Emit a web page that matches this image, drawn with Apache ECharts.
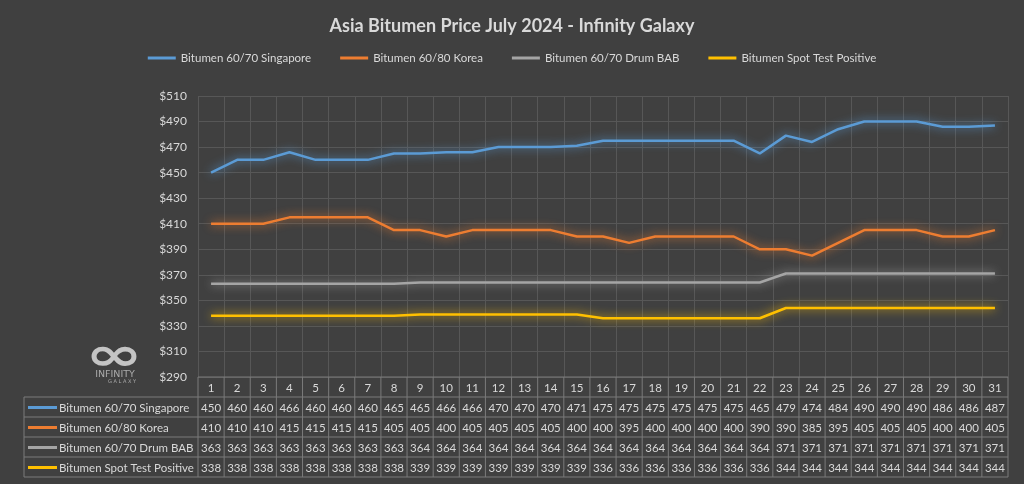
<!DOCTYPE html>
<html><head><meta charset="utf-8">
<script src="https://cdn.jsdelivr.net/npm/echarts@6/dist/echarts.min.js"></script>
<style>html,body{margin:0;padding:0;background:#404040;}#c{width:1024px;height:484px;}</style>
</head><body><div id="c"></div>
<script>
const days = ['1','2','3','4','5','6','7','8','9','10','11','12','13','14','15','16','17','18','19','20','21','22','23','24','25','26','27','28','29','30','31'];
const singapore = [450,460,460,466,460,460,460,465,465,466,466,470,470,470,471,475,475,475,475,475,475,465,479,474,484,490,490,490,486,486,487];
const korea = [410,410,410,415,415,415,415,405,405,400,405,405,405,405,400,400,395,400,400,400,400,390,390,385,395,405,405,405,400,400,405];
const drum = [363,363,363,363,363,363,363,363,364,364,364,364,364,364,364,364,364,364,364,364,364,364,371,371,371,371,371,371,371,371,371];
const spot = [338,338,338,338,338,338,338,338,339,339,339,339,339,339,339,336,336,336,336,336,336,336,344,344,344,344,344,344,344,344,344];
const seriesNames = ['Bitumen 60/70 Singapore','Bitumen 60/80 Korea','Bitumen 60/70 Drum BAB','Bitumen Spot Test Positive'];
const seriesColors = ['#5B9BD5','#ED7D31','#A5A5A5','#FFC000'];
const seriesData = [singapore, korea, drum, spot];

const FONT = 'Lato';
const TXT = '#d9d9d9';
const chart = echarts.init(document.getElementById('c'));
const option = {
  backgroundColor: '#404040',
  animation: false,
  title: {
    text: 'Asia Bitumen Price July 2024 - Infinity Galaxy',
    left: 'center', top: 12,
    textStyle: {color: TXT, fontSize: 18, fontWeight: 'bold', fontFamily: FONT}
  },
  legend: {
    top: 47, left: 'center',
    itemWidth: 28, itemHeight: 3, itemGap: 29,
    icon: 'rect',
    textStyle: {color: TXT, fontSize: 11.5, fontFamily: FONT},
    data: seriesNames
  },
  grid: {left: 198, right: 16, top: 96, bottom: 107},
  xAxis: {
    type: 'category', data: days, boundaryGap: true,
    axisLine: {show: false}, axisTick: {show: false}, axisLabel: {show: false},
    splitLine: {show: true, lineStyle: {color: '#575757', width: 1}}
  },
  yAxis: {
    type: 'value', min: 290, max: 510, interval: 20,
    axisLine: {show: false}, axisTick: {show: false},
    axisLabel: {color: TXT, fontSize: 12, fontFamily: FONT, margin: 11, formatter: v => '$' + v},
    splitLine: {lineStyle: {color: '#575757', width: 1}}
  },
  series: seriesNames.map((n, i) => ({
    name: n, type: 'line', data: seriesData[i], showSymbol: false, symbol: 'none',
    color: seriesColors[i],
    lineStyle: {width: 2.5, color: seriesColors[i], shadowColor: seriesColors[i], shadowBlur: 10},
    z: 3
  }))
};
chart.setOption(option);

// Build data table beneath the plot using the axis scale positions
const x0 = chart.convertToPixel({xAxisIndex: 0}, 0);
const x1 = chart.convertToPixel({xAxisIndex: 0}, 1);
const cw = x1 - x0;
const leftEdge = x0 - cw / 2;
const rightEdge = leftEdge + cw * days.length;
const labelLeft = 24;
const tableTop = 377, rowH = 20;
const border = '#7a7a7a';
const g = [];
function line(xa, ya, xb, yb) {
  g.push({type: 'line', shape: {x1: xa, y1: ya, x2: xb, y2: yb}, style: {stroke: border, lineWidth: 1}, silent: true});
}
function text(t, x, y, align, color, size, family, extra, weight) {
  g.push(Object.assign({type: 'text', x: x, y: y, style: {text: t, fill: color || TXT, font: (weight || '') + ' ' + (size || 12) + 'px ' + (family || FONT), align: align || 'center', verticalAlign: 'middle'}, silent: true}, extra || {}));
}
for (let r = 0; r <= 5; r++) {
  const y = tableTop + r * rowH;
  line(r === 0 ? leftEdge : labelLeft, y, rightEdge, y);
}
for (let c = 0; c <= days.length; c++) {
  const x = leftEdge + c * cw;
  line(x, tableTop, x, tableTop + 5 * rowH);
}
line(labelLeft, tableTop + rowH, labelLeft, tableTop + 5 * rowH);
days.forEach((d, c) => text(d, chart.convertToPixel({xAxisIndex: 0}, c), tableTop + rowH / 2 + 1, 'center', TXT, 11.5));
seriesData.forEach((arr, r) => {
  const yc = tableTop + (r + 1) * rowH + rowH / 2 + 1;
  g.push({type: 'rect', shape: {x: 28, y: yc - 2, width: 29, height: 3}, style: {fill: seriesColors[r]}, silent: true});
  text(seriesNames[r], 59, yc, 'left', TXT, 11.5);
  arr.forEach((v, c) => text(String(v), chart.convertToPixel({xAxisIndex: 0}, c), yc, 'center', TXT, 11.5));
});
// logo
text('∞', 114, 358, 'center', '#c4c4c4', 46, 'DejaVu Sans', {scaleX: 1.5, originX: 0, originY: 0}, 'bold');
text('INFINITY', 115, 375, 'center', '#aaaaaa', 9.5, 'DejaVu Sans');
text('G A L A X Y', 122, 382, 'center', '#aaaaaa', 5, 'DejaVu Sans');
chart.setOption({graphic: g});
</script>
</body></html>
